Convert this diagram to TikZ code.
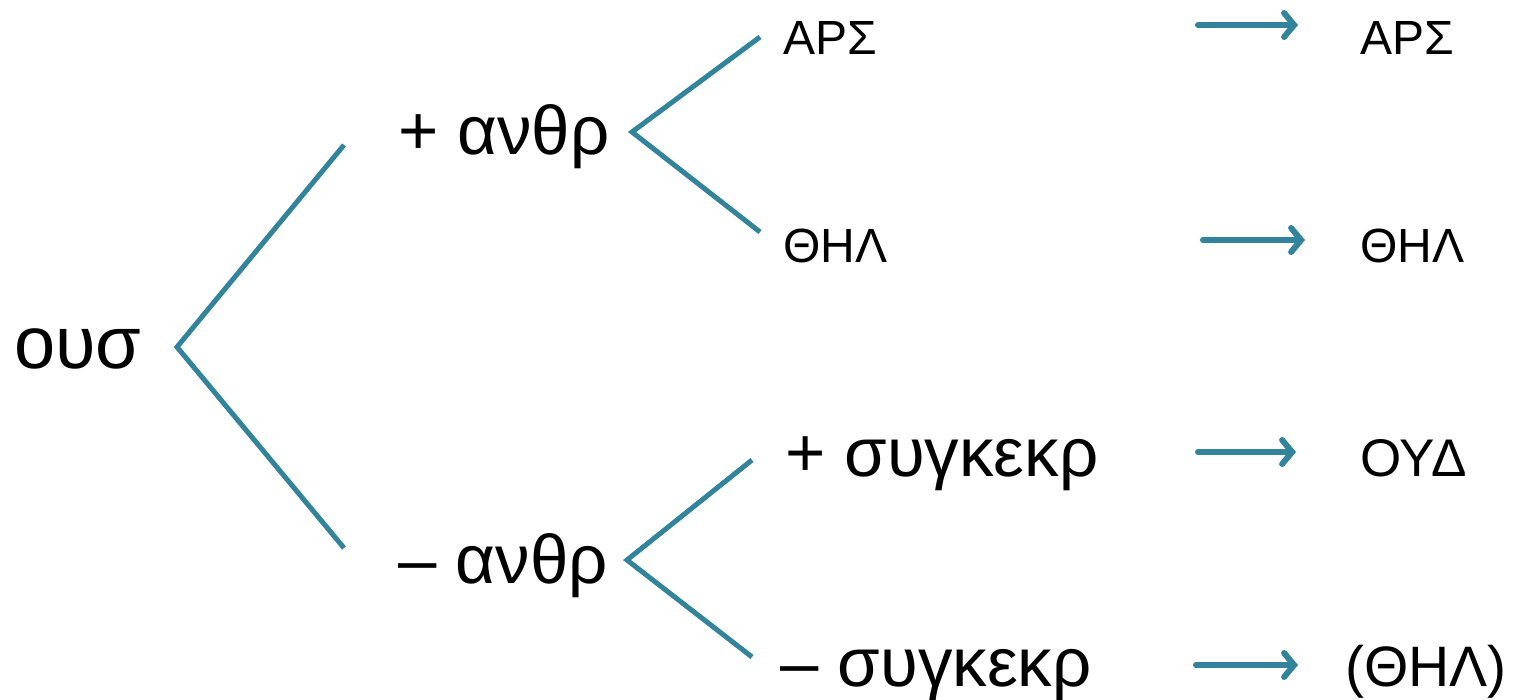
\documentclass[tikz,border=0pt]{standalone}
\usepackage{fontspec}
\setmainfont{Liberation Sans}
\usetikzlibrary{arrows.meta}
\definecolor{teal}{HTML}{31849B}
\tikzset{
  big/.style={anchor=base west, inner sep=0pt, font=\fontsize{69}{72}\selectfont},
  small/.style={anchor=base west, inner sep=0pt, font=\fontsize{48}{52}\selectfont},
  mid/.style={anchor=base west, inner sep=0pt, font=\fontsize{53}{56}\selectfont},
  branch/.style={draw=teal, line width=5pt},
  arr/.style={draw=teal, line width=6pt, line cap=round, -{Straight Barb[length=10pt,width=24pt,line cap=round]}}
}
\begin{document}
\begin{tikzpicture}[x=1pt,y=-1pt]
\useasboundingbox (0,0) rectangle (1517,700);
% text nodes
\node[big, font=\fontsize{74}{76}\selectfont] (ous) at (14,368) {ουσ};
\node[big] (pan) at (398,155) {+ ανθρ};
\node[big] (man) at (398,583) {– ανθρ};
\node[small] (ars) at (783,55) {ΑΡΣ};
\node[small] (thl) at (783,263) {ΘΗΛ};
\node[big] (psy) at (785,476) {+ συγκεκρ};
\node[big] (msy) at (780,686) {– συγκεκρ};
\node[small] (rars) at (1360,55) {ΑΡΣ};
\node[small] (rthl) at (1360,263) {ΘΗΛ};
\node[mid] (roud) at (1360,476) {ΟΥΔ};
\node[mid, font=\fontsize{57}{60}\selectfont] (rpth) at (1345,686) {(ΘΗΛ)};
% branch coordinates
\coordinate (v0) at (177,347);
\coordinate (v0u) at (344,145);
\coordinate (v0d) at (344,548);
\coordinate (v1) at (632,132);
\coordinate (v1u) at (760,37);
\coordinate (v1d) at (760,232);
\coordinate (v2) at (627,560);
\coordinate (v2u) at (752,460);
\coordinate (v2d) at (752,657);
\draw[branch] (v0u) -- (v0) -- (v0d);
\draw[branch] (v1u) -- (v1) -- (v1d);
\draw[branch] (v2u) -- (v2) -- (v2d);
% arrows
\coordinate (a1s) at (1198,25); \coordinate (a1e) at (1298,25);
\coordinate (a2s) at (1203,240); \coordinate (a2e) at (1305,240);
\coordinate (a3s) at (1198,452); \coordinate (a3e) at (1296,452);
\coordinate (a4s) at (1196,665); \coordinate (a4e) at (1298,665);
\draw[arr] (a1s) -- (a1e);
\draw[arr] (a2s) -- (a2e);
\draw[arr] (a3s) -- (a3e);
\draw[arr] (a4s) -- (a4e);
\end{tikzpicture}
\end{document}
